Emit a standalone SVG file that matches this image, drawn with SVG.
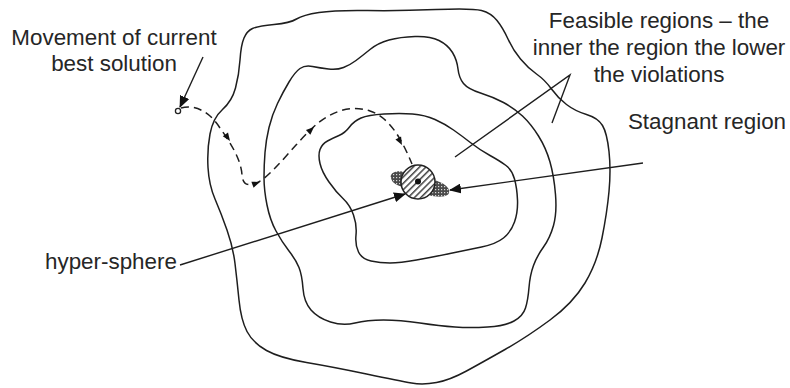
<svg xmlns="http://www.w3.org/2000/svg" width="790" height="388" viewBox="0 0 790 388">
<style>
.contour{fill:none;stroke:#1e1e1e;stroke-width:1.5;stroke-linejoin:round}
.lead{fill:none;stroke:#1e1e1e;stroke-width:1.4}
.dash{fill:none;stroke:#1e1e1e;stroke-width:1.5;stroke-dasharray:8 5}
.lbl{font-family:"Liberation Sans",Arial,sans-serif;font-size:22.4px;fill:#262626}
.ah{fill:#111}
</style>
<defs>
<marker id="arr" viewBox="0 0 12 10" refX="11" refY="5" markerWidth="12" markerHeight="10" markerUnits="userSpaceOnUse" orient="auto">
<path d="M0,0 L12,5 L0,10 Z" fill="#111"/>
</marker>
<path id="sm" d="M0,0 L-8,-3.2 L-8,3.2 Z"/>
<pattern id="hatch" width="4.5" height="4.5" patternUnits="userSpaceOnUse" patternTransform="rotate(-45)">
<rect width="4.5" height="4.5" fill="#fff"/>
<rect width="4.5" height="1.5" fill="#444"/>
</pattern>
<pattern id="check" width="3" height="3" patternUnits="userSpaceOnUse">
<rect width="3" height="3" fill="#4a4a4a"/>
<rect width="1.2" height="1.2" fill="#d8d8d8"/>
</pattern>
</defs>

<g id="outer-region">
<path class="contour" d="M210,134 Q213,118 222.5,109.5 T235.5,88 T240,60 T244,38 T252.5,28.5 T274,24.5 T296.5,19 T319,12.5 T367.5,10.5 T436,9.5 T481.5,10.5 T497,20.5 T508,39 T520.5,59 T536.5,74 T551.5,89 T566.5,104.5 T586.5,114.5 T602.5,125.5 T609,151.5 T609,191.5 T602,238 T585,283 T550,320 T505,349.5 T466.5,371 T436.5,382.5 T411.5,383 T366.5,374 T306.5,362.5 T266.5,350.5 T247,331.5 T239,300 T235,263.5 T227,230 T215,199 T208,167.5 T210,134 Z"/>
</g>
<g id="middle-region">
<path class="contour" d="M265,152.5 Q266,140 269,127.5 T277.5,103.5 T289,82 T300,68.5 T312.5,66.5 T328.5,69 T343.5,67.5 T356,60.5 T370,49.5 T389,40 T415,36.5 T439,40.5 T452.5,52.5 T458,69 T463.5,83.5 T480.5,93 T503.5,102.5 T522.5,116 T538.5,136 T550,162 T555.5,194.5 T553.5,225.5 T543.5,247 T533.5,265.5 T529,287.5 T525.5,308 T514,321 T487.5,327 T455,327 T420,323 T383.5,320 T355,323 T330.5,322 T311,310 T303,288.5 T299,267.5 T289,251 T276,231 T267,205 T264,177.5 T265,152.5 Z"/>
</g>
<g id="inner-region">
<path class="contour" d="M320,163.5 Q318,155 320,149.5 T327.5,141 T339,135.5 T349.5,127 T361,118 T384,114 T412.5,114 T435,119.5 T453.5,130 T471,143 T490,155.5 T506,165.5 T514.5,179 T517.5,200 T514.5,222 T503.5,238 T481.5,247 T450,253.5 T416.5,260 T390,263 T371,261 T358.5,252 T356,235 T353.5,215 T343,198.5 T329,182 T320,163.5 Z"/>
</g>

<g id="stagnant-region">
<path d="M391,178 C389,172 398,170 405,172 L430,179 C441,181 451,187 449,193 C447,198 436,197 428,195 L405,187 C397,186 392,183 391,178 Z" fill="url(#check)"/>
</g>
<g id="hyper-sphere-node">
<circle cx="418" cy="182" r="17" fill="url(#hatch)" stroke="#222" stroke-width="1.5"/>
<circle cx="418" cy="181.5" r="3" fill="#111"/>
</g>

<g id="start-point">
<circle cx="178" cy="111" r="2.6" fill="#fff" stroke="#222" stroke-width="1.3"/>
</g>

<g id="connectors">
<path class="dash" d="M181,108 C195,104 210,112 220,128 C232,145 241,160 242,175 C243,188 252,186 262,180 C280,166 298,140 318,123 C335,110 352,105 370,111 C388,117 400,135 412,164"/>
<use href="#sm" class="ah" transform="translate(230,141) rotate(55)"/>
<use href="#sm" class="ah" transform="translate(260,182) rotate(-20)"/>
<use href="#sm" class="ah" transform="translate(314,127) rotate(-43)"/>
<use href="#sm" class="ah" transform="translate(402,145) rotate(62)"/>
<line class="lead" x1="203" y1="57" x2="180" y2="107" marker-end="url(#arr)"/>
<line class="lead" x1="180" y1="265" x2="405" y2="194" marker-end="url(#arr)"/>
<line class="lead" x1="643" y1="163" x2="450" y2="190" marker-end="url(#arr)"/>
<polyline class="lead" points="455,157 570,75 552,123"/>
</g>

<g id="labels">
<text class="lbl" x="114" y="44.5" text-anchor="middle">Movement of current</text>
<text class="lbl" x="114" y="71" text-anchor="middle">best solution</text>
<text class="lbl" x="659" y="28" text-anchor="middle">Feasible regions – the</text>
<text class="lbl" x="659" y="55" text-anchor="middle">inner the region the lower</text>
<text class="lbl" x="659" y="82" text-anchor="middle">the violations</text>
<text class="lbl" x="707" y="129" text-anchor="middle">Stagnant region</text>
<text class="lbl" x="45" y="269">hyper-sphere</text>
</g>
</svg>
